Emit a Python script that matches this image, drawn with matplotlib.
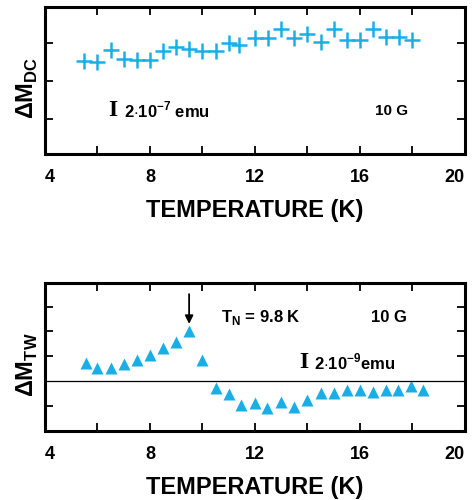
import matplotlib
matplotlib.use('Agg')
import matplotlib.pyplot as plt

plt.rcParams['font.family'] = ['Liberation Sans', 'DejaVu Sans']
plt.rcParams['font.weight'] = 'bold'
plt.rcParams['mathtext.fontset'] = 'custom'
plt.rcParams['mathtext.rm'] = 'Liberation Sans'
plt.rcParams['mathtext.bf'] = 'Liberation Sans:bold'

# DC magnetization (top panel)
t_dc = [5.5, 6.0, 6.5, 7.0, 7.5, 8.0, 8.5, 9.0, 9.5, 10.0, 10.5, 11.0, 11.4,
        12.0, 12.5, 13.0, 13.5, 14.0, 14.5, 15.0, 15.5, 16.0, 16.5, 17.0, 17.5, 18.0]
m_dc = [2.53, 2.51, 2.81, 2.58, 2.56, 2.56, 2.78, 2.89, 2.85, 2.78, 2.78, 2.99, 2.94,
        3.12, 3.13, 3.38, 3.13, 3.25, 3.04, 3.37, 3.09, 3.09, 3.38, 3.16, 3.16, 3.09]

# torsion magnetization (bottom panel)
t_tw = [5.55, 6.0, 6.5, 7.0, 7.5, 8.0, 8.5, 9.0, 9.5, 10.0, 10.5, 11.0, 11.45,
        12.0, 12.45, 13.0, 13.5, 14.0, 14.5, 15.0, 15.5, 16.0, 16.5, 17.0, 17.45, 17.95, 18.4]
m_tw = [0.74, 0.51, 0.51, 0.67, 0.85, 1.05, 1.32, 1.59, 2.02, 0.85, -0.30, -0.54, -0.97,
        -0.88, -1.10, -0.84, -1.04, -0.77, -0.47, -0.50, -0.36, -0.36, -0.43, -0.36, -0.36, -0.20, -0.36]

xticks = [4, 8, 12, 16, 20]
blue = '#1aaee6'

fig = plt.figure(figsize=(4.74, 5.0), dpi=100)
ax1 = fig.add_axes([45 / 474, 1 - 154 / 500, 420 / 474, 147 / 500])
ax2 = fig.add_axes([45 / 474, 1 - 431 / 500, 420 / 474, 148 / 500])

for ax in (ax1, ax2):
    ax.set_xlim(4, 20)
    ax.set_xticks(xticks)
    ax.set_xticks([6, 10, 14, 18], minor=True)
    ax.tick_params(which='both', direction='in', top=True, right=True,
                   length=6, width=1.3, labelsize=13, pad=11)
    ax.tick_params(axis='y', labelleft=False)
    for s in ax.spines.values():
        s.set_linewidth(2.2)
    ax.set_xlabel('TEMPERATURE (K)', fontsize=17, fontweight='bold', labelpad=9)
    labs = ax.get_xticklabels()
    for lab in labs:
        lab.set_fontweight('bold')
    labs[0].set_ha('left')
    labs[-1].set_ha('right')

# top panel
ax1.plot(t_dc, m_dc, '+', color=blue, ms=12, mew=1.8)
ax1.set_ylim(0.075, 3.95)
ax1.set_yticks([1, 2, 3])
ax1.set_ylabel(r'$\Delta\mathbf{M}_{\mathbf{DC}}$', fontsize=17)
ax1.yaxis.set_label_coords(-0.012, 0.45)
ax1.text(6.6, 1.22, 'I', family='Liberation Serif', fontsize=17, fontweight='bold',
         ha='center', va='center')
ax1.text(7.0, 1.22, r'2$\cdot$10$^{\mathbf{-7}}$ emu', fontsize=12, fontweight='bold',
         va='center')
ax1.text(17.2, 1.22, '10 G', fontsize=11, fontweight='bold', ha='center', va='center')

# bottom panel
ax2.plot(t_tw, m_tw, '^', color=blue, ms=8, mec='none')
ax2.axhline(0, color='black', lw=0.9)
ax2.set_ylim(-2.02, 3.95)
ax2.set_yticks([-1, 1, 2, 3])
ax2.set_ylabel(r'$\Delta\mathbf{M}_{\mathbf{TW}}$', fontsize=17)
ax2.yaxis.set_label_coords(-0.012, 0.45)
ax2.annotate('', xy=(9.49, 2.3), xytext=(9.49, 3.5),
             arrowprops=dict(arrowstyle='-|>', color='black', lw=1.3,
                             mutation_scale=12, shrinkA=0, shrinkB=0))
ax2.text(10.7, 2.55, r'T$_{\mathbf{N}}$ = 9.8 K', fontsize=12, fontweight='bold', va='center')
ax2.text(17.1, 2.55, '10 G', fontsize=12, fontweight='bold', ha='center', va='center')
ax2.text(13.85, 0.75, 'I', family='Liberation Serif', fontsize=17, fontweight='bold',
         ha='center', va='center')
ax2.text(14.25, 0.75, r'2$\cdot$10$^{\mathbf{-9}}$emu', fontsize=12, fontweight='bold',
         va='center')

fig.savefig('out.png', dpi=100)
